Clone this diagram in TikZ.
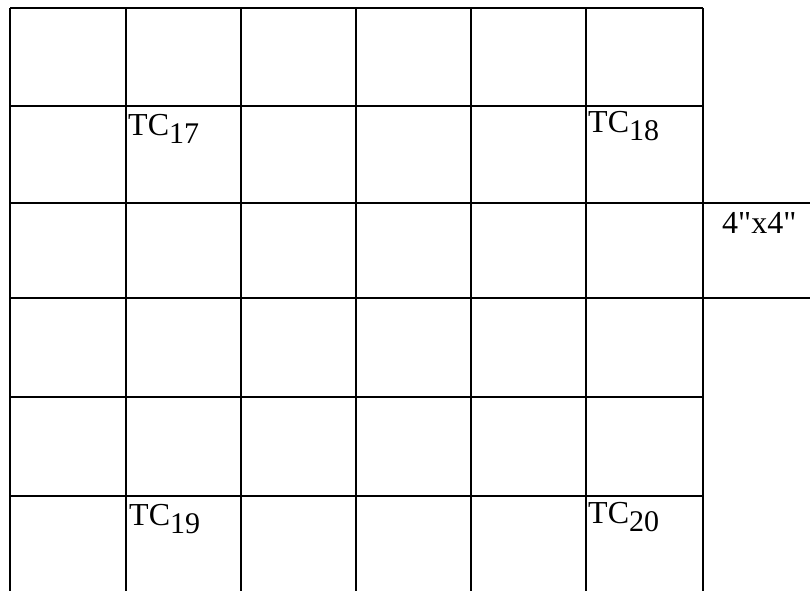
\documentclass[tikz,border=0pt]{standalone}
\usepackage{fontspec}
\setmainfont{Liberation Serif}
\newfontfamily\plainserif{Liberation Serif}[Ligatures=TeXOff]
\usetikzlibrary{positioning}
\newcommand{\tcsub}[1]{TC\raisebox{-8pt}{\fontsize{30}{31}\selectfont #1}}

\begin{document}
\begin{tikzpicture}[x=1pt, y=-1pt,
    gridline/.style={line width=1.2pt},
    tclabel/.style={anchor=north west, inner sep=0pt, font=\fontsize{32}{34}\selectfont}]
    \useasboundingbox (0,0) rectangle (810,591);

    % Grid columns
    \foreach \x in {10,126,241,356,471,586,703} {
        \draw[gridline] (\x,8) -- (\x,591);
    }
    % Grid rows
    \foreach \y in {8,106,203,298,397,496} {
        \draw[gridline] (10,\y) -- (703,\y);
    }

    % Extended rows on the right
    \coordinate (ext1) at (810,203);
    \coordinate (ext2) at (810,298);
    \draw[gridline] (703,203) -- (ext1);
    \draw[gridline] (703,298) -- (ext2);
    \node[tclabel] (size) at (722,212) {\plainserif 4"x4"};

    % Thermocouple labels
    \node[tclabel] (tc17) at (128,114) {\tcsub{17}};
    \node[tclabel] (tc18) at (588,111) {\tcsub{18}};
    \node[tclabel] (tc19) at (129,504) {\tcsub{19}};
    \node[tclabel] (tc20) at (588,502) {\tcsub{20}};
\end{tikzpicture}
\end{document}
